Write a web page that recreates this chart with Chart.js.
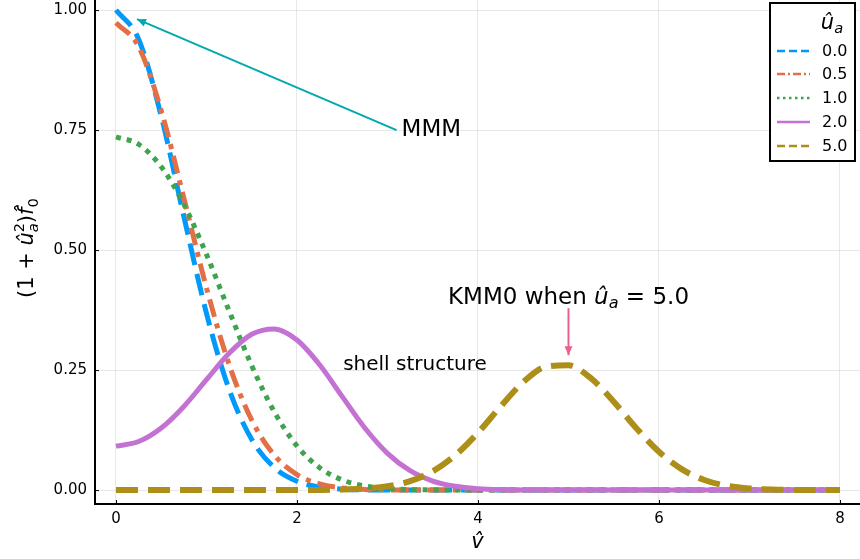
<!DOCTYPE html>
<html>
<head>
<meta charset="utf-8">
<script src="https://cdn.jsdelivr.net/npm/chart.js@4/dist/chart.umd.min.js"></script>
<style>
  html, body { margin: 0; padding: 0; background: #fff; }
  #wrap { width: 860px; height: 559px; }
</style>
</head>
<body>
<div id="wrap"><canvas id="chart" width="860" height="559"></canvas></div>
<script>
// speed grid (v hat)
const vGrid = [0, 0.25, 0.5, 0.75, 1, 1.25, 1.5, 1.75, 2, 2.25, 2.5, 2.75, 3, 3.25, 3.5, 3.75,
  4, 4.25, 4.5, 4.75, 5, 5.25, 5.5, 5.75, 6, 6.25, 6.5, 6.75, 7, 7.25, 7.5, 7.75, 8];

// (1 + u^2) f0, one list per u_a
const fU00 = [1.0, 0.9394, 0.7788, 0.5698, 0.3679, 0.2096, 0.1054, 0.0468, 0.0183, 0.0063, 0.0019,
  0.0005, 0.0001, 0, 0, 0, 0, 0, 0, 0, 0, 0, 0, 0, 0, 0, 0, 0, 0, 0, 0, 0, 0];
const fU05 = [0.9735, 0.9240, 0.7902, 0.6082, 0.4209, 0.2615, 0.1457, 0.0726, 0.0323, 0.0129, 0.0046,
  0.0014, 0.0004, 0.0001, 0, 0, 0, 0, 0, 0, 0, 0, 0, 0, 0, 0, 0, 0, 0, 0, 0, 0, 0];
const fU10 = [0.7358, 0.7204, 0.6735, 0.5951, 0.4909, 0.3732, 0.2590, 0.1627, 0.0919, 0.0466, 0.0211,
  0.0085, 0.0031, 0.0010, 0.0003, 0.0001, 0, 0, 0, 0, 0, 0, 0, 0, 0, 0, 0, 0, 0, 0, 0, 0, 0];
const fU20 = [0.0916, 0.1011, 0.1293, 0.1743, 0.2299, 0.2849, 0.3245, 0.3355, 0.3125, 0.2610, 0.1947,
  0.1294, 0.0766, 0.0403, 0.0188, 0.0078, 0.0029, 0.0009, 0.0003, 0.0001, 0, 0, 0, 0, 0, 0, 0, 0, 0, 0, 0, 0, 0];
const fU50 = [0, 0, 0, 0, 0, 0, 0, 0, 0.0001, 0.0003, 0.0010, 0.0030, 0.0079, 0.0187, 0.0392, 0.0727,
  0.1196, 0.1743, 0.2250, 0.2571, 0.2600, 0.2326, 0.1841, 0.1288, 0.0797, 0.0436, 0.0211, 0.0090,
  0.0034, 0.0011, 0.0003, 0.0001, 0];

const seriesLabels = ['0.0', '0.5', '1.0', '2.0', '5.0'];
const xTicks = [0, 2, 4, 6, 8];
const yTicks = [0, 0.25, 0.5, 0.75, 1.0];

const colors = ['#009AFA', '#E36F47', '#3EA44E', '#C371D2', '#AC8E18'];
const dashes = [[22, 9], [18, 7, 5, 7], [5, 6], [], [22, 10]];
const legendDashes = [[8, 4], [8, 3, 2, 3], [2.5, 3.5], [], [8, 4]];
const widths = [5, 5, 5, 5, 6];

const FONT = '"DejaVu Sans", sans-serif';

function toPts(arr) {
    return arr.map((y, i) => ({ x: vGrid[i], y: y }));
}

const allSeries = [fU00, fU05, fU10, fU20, fU50];
const datasets = allSeries.map((s, i) => ({
    label: seriesLabels[i],
    data: toPts(s),
    borderColor: colors[i],
    borderWidth: widths[i],
    borderDash: dashes[i],
    borderCapStyle: 'butt',
    pointRadius: 0,
    fill: false,
    cubicInterpolationMode: 'monotone',
    order: 5 - i
}));

// draw a run of text pieces, returns width
function runs(ctx, parts, x, y, size, measureOnly) {
    let cx = x;
    parts.forEach(p => {
        const sz = size * (p.s || 1);
        ctx.font = (p.i ? 'italic ' : '') + sz + 'px ' + FONT;
        const w = ctx.measureText(p.t).width;
        if (!measureOnly) ctx.fillText(p.t, cx, y + (p.dy || 0) * size);
        if (!p.noAdv) cx += w;
    });
    return cx - x;
}

function arrow(ctx, x1, y1, x2, y2, color) {
    ctx.save();
    ctx.strokeStyle = color;
    ctx.fillStyle = color;
    ctx.lineWidth = 2;
    ctx.beginPath();
    ctx.moveTo(x1, y1);
    ctx.lineTo(x2, y2);
    ctx.stroke();
    const a = Math.atan2(y2 - y1, x2 - x1);
    const L = 9, W = 4;
    ctx.beginPath();
    ctx.moveTo(x2, y2);
    ctx.lineTo(x2 - L * Math.cos(a) + W * Math.sin(a), y2 - L * Math.sin(a) - W * Math.cos(a));
    ctx.lineTo(x2 - L * Math.cos(a) - W * Math.sin(a), y2 - L * Math.sin(a) + W * Math.cos(a));
    ctx.closePath();
    ctx.fill();
    ctx.restore();
}

const extras = {
    id: 'extras',
    afterDatasetsDraw(chart) {
        const ctx = chart.ctx;
        const xs = chart.scales.x, ys = chart.scales.y;
        const area = chart.chartArea;
        const px = v => xs.getPixelForValue(v);
        const py = v => ys.getPixelForValue(v);

        // inward tick marks and tick labels
        ctx.save();
        ctx.strokeStyle = '#000';
        ctx.fillStyle = '#000';
        ctx.lineWidth = 1;
        ctx.font = '15px ' + FONT;
        ctx.textAlign = 'center';
        ctx.textBaseline = 'middle';
        xTicks.forEach(t => {
            ctx.beginPath();
            ctx.moveTo(px(t) + 0.5, area.bottom);
            ctx.lineTo(px(t) + 0.5, area.bottom - 4);
            ctx.stroke();
            ctx.fillText(String(t), px(t), 519);
        });
        ctx.textAlign = 'right';
        yTicks.forEach(t => {
            ctx.beginPath();
            ctx.moveTo(area.left, py(t) + 0.5);
            ctx.lineTo(area.left + 4, py(t) + 0.5);
            ctx.stroke();
            ctx.fillText(t.toFixed(2), 87, py(t));
        });
        ctx.restore();

        // annotations
        arrow(ctx, px(3.1), py(0.75), px(0.232), py(0.981), '#00A9AD');
        arrow(ctx, px(5.0), py(0.379), px(5.0), py(0.281), '#ED5E93');

        ctx.save();
        ctx.fillStyle = '#000';
        ctx.textBaseline = 'middle';
        ctx.textAlign = 'left';
        ctx.font = '23px ' + FONT;
        ctx.fillText('MMM', px(3.1) + 5, py(0.75));

        ctx.font = '20px ' + FONT;
        ctx.fillText('shell structure', px(2.51), py(0.262));

        const kmm = [
            { t: 'KMM0 when ' },
            { t: 'û', i: true },
            { t: 'a', i: true, s: 0.7, dy: 0.25 },
            { t: ' = 5.0' }
        ];
        const w = runs(ctx, kmm, 0, 0, 23, true);
        runs(ctx, kmm, px(5.0) - w / 2, py(0.400), 23);

        // x axis title
        ctx.textAlign = 'center';
        ctx.font = 'italic 21px ' + FONT;
        ctx.fillText('v\u0302', (area.left + area.right) / 2, 543);

        // y axis title, rotated
        ctx.save();
        ctx.translate(28, py(0.5) - 2);
        ctx.rotate(-Math.PI / 2);
        ctx.textAlign = 'left';
        const ylab = [
            { t: '(1 + ' },
            { t: 'û', i: true },
            { t: '2', s: 0.7, dy: -0.35, noAdv: true },
            { t: 'a', i: true, s: 0.7, dy: 0.3 },
            { t: ')' },
            { t: 'f\u0302', i: true },
            { t: '0', s: 0.7, dy: 0.3 }
        ];
        const yw = runs(ctx, ylab, 0, 0, 21, true);
        runs(ctx, ylab, -yw / 2, 0, 21);
        ctx.restore();

        // legend
        const bx = 770, by = 3, bw = 85, bh = 158;
        ctx.fillStyle = '#fff';
        ctx.fillRect(bx, by, bw, bh);
        ctx.strokeStyle = '#000';
        ctx.lineWidth = 2;
        ctx.strokeRect(bx, by, bw, bh);

        ctx.fillStyle = '#000';
        ctx.textAlign = 'left';
        const title = [
            { t: 'û', i: true },
            { t: 'a', i: true, s: 0.7, dy: 0.25 }
        ];
        const tw = runs(ctx, title, 0, 0, 21, true);
        runs(ctx, title, 832 - tw / 2, 24, 21);

        const rowY = [51, 74, 98, 122, 146];
        seriesLabels.forEach((lab, i) => {
            ctx.save();
            ctx.strokeStyle = colors[i];
            ctx.lineWidth = 2.5;
            ctx.setLineDash(legendDashes[i]);
            ctx.beginPath();
            ctx.moveTo(777, rowY[i]);
            ctx.lineTo(810, rowY[i]);
            ctx.stroke();
            ctx.restore();
            ctx.font = '16px ' + FONT;
            ctx.fillText(lab, 822, rowY[i] + 1);
        });
        ctx.restore();
    }
};

new Chart(document.getElementById('chart'), {
    type: 'line',
    data: { datasets: datasets },
    options: {
        responsive: false,
        animation: false,
        layout: { padding: 0 },
        plugins: {
            legend: { display: false },
            tooltip: { enabled: false }
        },
        scales: {
            x: {
                type: 'linear',
                min: -0.232,
                max: 8.221,
                afterBuildTicks: s => { s.ticks = xTicks.map(v => ({ value: v })); },
                afterFit: s => { s.height = 55; },
                grid: { color: 'rgba(0,0,0,0.09)', lineWidth: 1, drawTicks: false },
                border: { display: true, color: '#000', width: 2 },
                ticks: { display: false }
            },
            y: {
                type: 'linear',
                min: -0.029,
                max: 1.021,
                afterBuildTicks: s => { s.ticks = yTicks.map(v => ({ value: v })); },
                afterFit: s => { s.width = 95; },
                grid: { color: 'rgba(0,0,0,0.09)', lineWidth: 1, drawTicks: false },
                border: { display: true, color: '#000', width: 2 },
                ticks: { display: false }
            }
        }
    },
    plugins: [extras]
});
</script>
</body>
</html>
